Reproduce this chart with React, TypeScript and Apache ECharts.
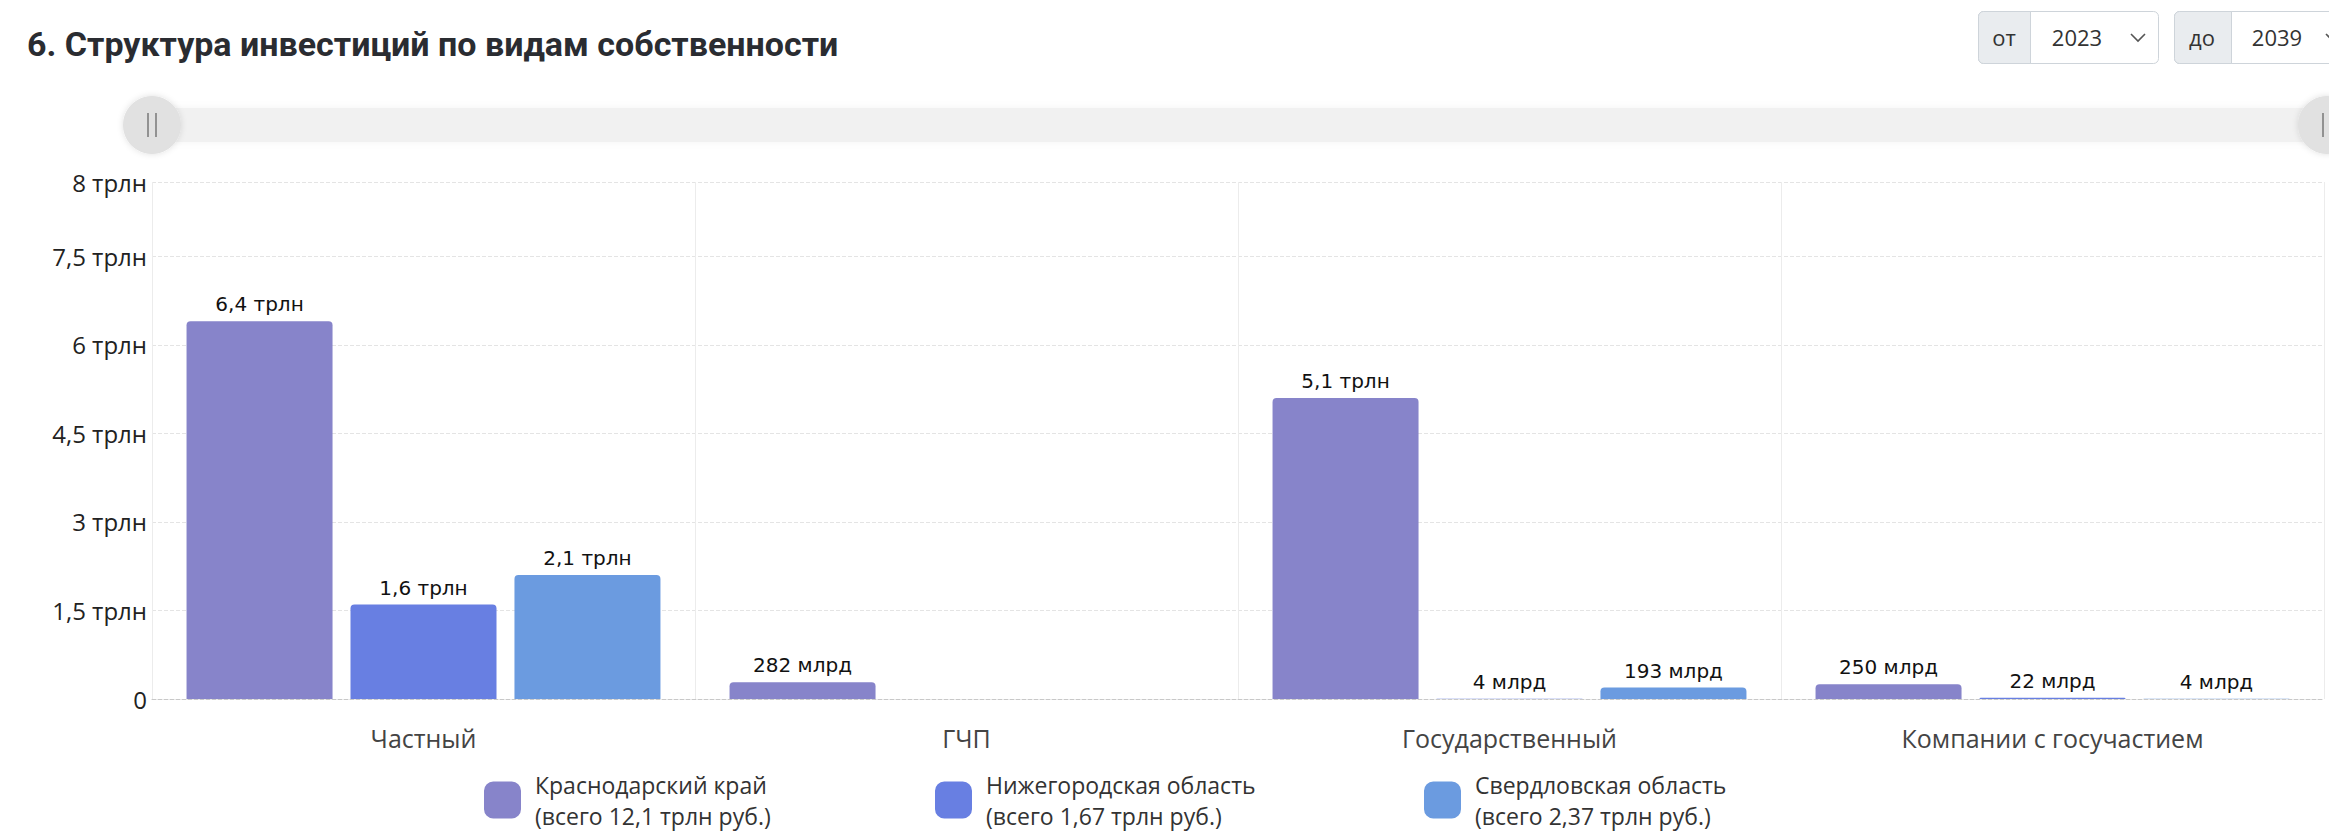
import React, { useEffect, useRef } from "react";
import * as echarts from "echarts";

const categories = ["Частный", "ГЧП", "Государственный", "Компании с госучастием"];
const seriesNames = ["Краснодарский край", "Нижегородская область", "Свердловская область"];
const krasnodar = [6.4e12, 282e9, 5.1e12, 250e9];
const nizhny = [1.6e12, null, 4e9, 22e9];
const sverdlovsk = [2.1e12, null, 193e9, 4e9];
const legendTotals = ["12,1", "1,67", "2,37"];
const yTickLabels = ["0", "1,5 трлн", "3 трлн", "4,5 трлн", "6 трлн", "7,5 трлн", "8 трлн"];
const yearFrom = "2023";
const yearTo = "2039";
const titleText = "6. Структура инвестиций по видам собственности";

const colors = ["#8784CA", "#687FE2", "#6B9BE0"];
const Y_MAX = 8.76e12;
const Y_INTERVAL = 1.5e12;

function fmtValue(v: number): string {
  if (v >= 1e12) {
    const t = Math.round((v / 1e12) * 10) / 10;
    return String(t).replace(".", ",") + " трлн";
  }
  return Math.round(v / 1e9) + " млрд";
}

export default function App() {
  const ref = useRef<HTMLDivElement>(null);
  useEffect(() => {
    if (!ref.current) return;
    const chart = echarts.init(ref.current, null, { renderer: "svg" });
    const seriesData = [krasnodar, nizhny, sverdlovsk];
    const legendLefts = [484, 935, 1424];
    const txt = (text: string, x: number, y: number, size = 22) => ({
      type: "text",
      x,
      y,
      z: 10,
      style: {
        text,
        fill: "#333",
        fontSize: size,
        fontFamily: "Open Sans",
        textAlign: "center",
        align: "center",
        textVerticalAlign: "middle",
        verticalAlign: "middle",
      },
    });
    const handle = (cx: number) => [
      {
        type: "circle",
        z: 5,
        shape: { cx, cy: 125, r: 29 },
        style: { fill: "#e1e1e1", shadowBlur: 6, shadowColor: "rgba(0,0,0,0.12)" },
      },
      { type: "line", z: 6, shape: { x1: cx - 4, y1: 113, x2: cx - 4, y2: 137 }, style: { stroke: "#777", lineWidth: 1.5 } },
      { type: "line", z: 6, shape: { x1: cx + 4, y1: 113, x2: cx + 4, y2: 137 }, style: { stroke: "#777", lineWidth: 1.5 } },
    ];
    const option: any = {
      animation: false,
      backgroundColor: "#ffffff",
      title: {
        text: titleText,
        left: 22,
        top: 22,
        textStyle: { fontFamily: "Roboto", fontWeight: "bold", fontSize: 34, color: "#2a2c31" },
      },
      grid: { left: 152, right: 5, top: 182, bottom: 833 - 699, containLabel: false },
      legend: seriesNames.map((n, i) => ({
        data: [n],
        left: legendLefts[i],
        top: 769,
        padding: 0,
        itemWidth: 37,
        itemHeight: 37,
        icon: "roundRect",
        selectedMode: false,
        formatter: (name: string) => `${name}\n(всего ${legendTotals[i]} трлн руб.)`,
        textStyle: { fontFamily: "Open Sans", fontSize: 23, lineHeight: 31, color: "#333", padding: [0, 0, 0, 9] },
      })),
      xAxis: {
        type: "category",
        data: categories,
        axisLine: { lineStyle: { color: "#c8c8c8", type: "dashed" } },
        axisTick: { show: false },
        axisLabel: { fontFamily: "Open Sans", fontSize: 25, color: "#444", margin: 26 },
        splitLine: { show: true, lineStyle: { color: "#ececec" } },
      },
      yAxis: {
        type: "value",
        min: 0,
        max: Y_MAX,
        interval: Y_INTERVAL,
        axisLine: { show: false },
        axisTick: { show: false },
        axisLabel: {
          fontFamily: "Open Sans",
          fontSize: 24,
          color: "#222",
          margin: 5,
          formatter: (_v: number, i: number) => yTickLabels[i] ?? "",
        },
        splitLine: { lineStyle: { color: "#e4e4e4", type: "dashed" } },
      },
      series: seriesNames.map((n, i) => ({
        name: n,
        type: "bar",
        data: seriesData[i],
        barWidth: 146,
        barGap: "12.3%",
        itemStyle: { color: colors[i], borderRadius: [4, 4, 0, 0] },
        label: {
          show: true,
          position: "top",
          distance: 7,
          fontFamily: "DejaVu Sans",
          fontSize: 20,
          color: "#111",
          formatter: (p: any) => (p.value == null ? "" : fmtValue(p.value)),
        },
      })),
      graphic: [
        {
          type: "rect",
          z: 1,
          shape: { x: 152, y: 108, width: 2180, height: 34, r: 17 },
          style: { fill: "#f1f1f1", shadowBlur: 8, shadowColor: "rgba(0,0,0,0.04)" },
        },
        ...handle(152),
        ...handle(2327),
        {
          type: "rect",
          z: 8,
          shape: { x: 1978.5, y: 11.5, width: 180, height: 52, r: 5 },
          style: { fill: "#fff", stroke: "#ced4da", lineWidth: 1 },
        },
        {
          type: "rect",
          z: 9,
          shape: { x: 1978.5, y: 11.5, width: 52, height: 52, r: [5, 0, 0, 5] },
          style: { fill: "#e9ecef", stroke: "#ced4da", lineWidth: 1 },
        },
        txt("от", 2004, 37),
        txt(yearFrom, 2077, 37),
        {
          type: "polyline",
          z: 10,
          shape: { points: [[2131, 34], [2138, 41], [2145, 34]] },
          style: { stroke: "#555", lineWidth: 1.6, fill: null },
        },
        {
          type: "rect",
          z: 8,
          shape: { x: 2174.5, y: 11.5, width: 200, height: 52, r: 5 },
          style: { fill: "#fff", stroke: "#ced4da", lineWidth: 1 },
        },
        {
          type: "rect",
          z: 9,
          shape: { x: 2174.5, y: 11.5, width: 57, height: 52, r: [5, 0, 0, 5] },
          style: { fill: "#e9ecef", stroke: "#ced4da", lineWidth: 1 },
        },
        txt("до", 2202, 37),
        txt(yearTo, 2277, 37),
        {
          type: "polyline",
          z: 10,
          shape: { points: [[2326, 34], [2333, 41], [2340, 34]] },
          style: { stroke: "#555", lineWidth: 1.6, fill: null },
        },
      ],
    };
    chart.setOption(option);
    return () => chart.dispose();
  }, []);
  return (
    <div
      ref={ref}
      style={{ position: "absolute", left: 0, top: 0, width: 2329, height: 833, background: "#fff" }}
    />
  );
}
